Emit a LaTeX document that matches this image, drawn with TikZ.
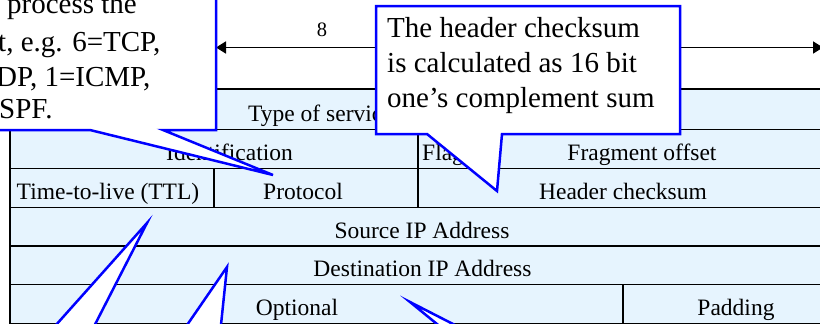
\documentclass[tikz,border=0pt]{standalone}
\usepackage{fontspec}
\setmainfont{Liberation Serif}
\usetikzlibrary{arrows.meta}
\definecolor{cellfill}{RGB}{230,244,254}
\definecolor{noteblue}{RGB}{0,0,255}
\begin{document}
\begin{tikzpicture}[x=1pt,y=-1pt,
  cell/.style={draw=black,line width=1.7pt,fill=cellfill},
  celltext/.style={anchor=base,inner sep=0pt,font=\fontsize{23.5}{28}\selectfont},
  note/.style={draw=noteblue,line width=2.5pt,fill=white,line join=miter},
  notetext/.style={anchor=base west,inner sep=0pt,font=\fontsize{29}{35}\selectfont},
  dimline/.style={line width=1.7pt,{Triangle[length=10pt,width=12pt]}-{Triangle[length=10pt,width=12pt]}}]
\useasboundingbox (0,0) rectangle (820,324);
\clip (0,0) rectangle (820,324);
\fill[white] (0,0) rectangle (820,324);

% header rows
\draw[cell] (10,89) rectangle (214,129.5);
\draw[cell] (214,89) rectangle (418,129.5);
\draw[cell] (418,89) rectangle (826,129.5);
\draw[cell] (10,129.5) rectangle (418,168.5);
\draw[cell] (418,129.5) rectangle (485,168.5);
\draw[cell] (485,129.5) rectangle (826,168.5);
\draw[cell] (10,168.5) rectangle (214,207.5);
\draw[cell] (214,168.5) rectangle (418,207.5);
\draw[cell] (418,168.5) rectangle (826,207.5);
\draw[cell] (10,207.5) rectangle (826,246);
\draw[cell] (10,246) rectangle (826,284.5);
\draw[cell] (10,284.5) rectangle (623,323.5);
\draw[cell] (623,284.5) rectangle (826,323.5);

% field names
\node[celltext,anchor=base west] (tos) at (248,121) {Type of service};
\node[celltext] (ident) at (229.5,160) {Identification};
\node[celltext,anchor=base west] (flags) at (422,160) {Flags};
\node[celltext] (frag) at (642,160) {Fragment offset};
\node[celltext] (ttl) at (108,199) {Time-to-live (TTL)};
\node[celltext] (proto) at (303,199) {Protocol};
\node[celltext] (hcs) at (623,199) {Header checksum};
\node[celltext] (src) at (422,238) {Source IP Address};
\node[celltext] (dst) at (422.5,276) {Destination IP Address};
\node[celltext] (opt) at (297,315) {Optional};
\node[celltext] (pad) at (736,315) {Padding};

% bit-width dimension
\coordinate (dimL) at (216,47.5);
\coordinate (dimR) at (823,47.5);
\draw[dimline] (dimL) -- (dimR);
\node[anchor=base,inner sep=0pt,font=\fontsize{20.5}{24}\selectfont] (eight) at (322,36) {8};

% protocol note
\filldraw[note] (-10,-10) -- (216,-10) -- (216,130) -- (163,130) -- (273,175)
  -- (90,130) -- (-10,130) -- cycle;
\node[notetext] (n1a) at (7,13.5) {process the};
\node[notetext] (n1b) at (-2,51) {t, e.g. 6=TCP,};
\node[notetext] (n1c) at (-4,86) {DP, 1=ICMP,};
\node[notetext] (n1d) at (-1,118.5) {SPF.};

% checksum note
\filldraw[note] (376,6) -- (680,6) -- (680,134) -- (502,134) -- (497,191)
  -- (427,134) -- (376,134) -- cycle;
\node[notetext] (n2a) at (387,37.5) {The header checksum};
\node[notetext] (n2b) at (387,72.5) {is calculated as 16 bit};
\node[notetext] (n2c) at (387,107) {one’s complement sum};

% pointers of the notes below
\filldraw[note] (39,344) -- (147,223) -- (85,344) -- cycle;
\filldraw[note] (174,344) -- (227,267) -- (219,344) -- cycle;
\filldraw[note] (461.5,344) -- (410,302) -- (492,344) -- cycle;
\end{tikzpicture}
\end{document}
